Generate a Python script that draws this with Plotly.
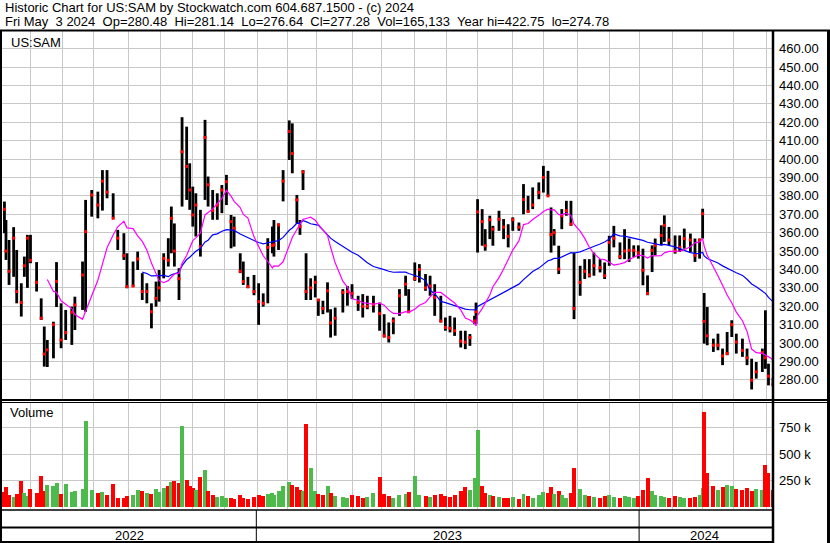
import numpy as np
import pandas as pd
import plotly.graph_objects as go

# ---------------- data ----------------
# trading-session number of each sampled bar (session 0 = 2022-05-05)
session = [1, 2, 4, 7, 9, 12, 14, 16, 18, 22,
           25, 27, 29, 33, 35, 38, 41, 45, 47, 52,
           54, 58, 62, 65, 68, 72, 75, 79, 81, 85,
           88, 91, 94, 97, 100, 102, 105, 108, 110, 112,
           115, 117, 120, 122, 124, 126, 129, 132, 134, 137,
           140, 143, 146, 149, 151, 155, 157, 160, 164, 167,
           170, 173, 176, 177, 180, 183, 187, 189, 192, 194,
           196, 198, 201, 204, 206, 209, 212, 214, 217, 222,
           225, 228, 232, 235, 238, 242, 246, 249, 252, 255,
           259, 263, 265, 269, 272, 276, 279, 282, 286, 289,
           292, 295, 299, 302, 305, 308, 309, 310, 313, 315,
           318, 320, 324, 327, 330, 333, 337, 340, 343, 346,
           350, 353, 356, 358, 360, 363, 365, 368, 371, 373,
           377, 380, 383, 386, 390, 393, 396, 399, 403, 406,
           409, 412, 415, 418, 421, 424, 426, 430, 432, 435,
           439, 442, 445, 449, 452, 455, 457, 458, 460, 464,
           467, 470, 473, 476, 479, 483, 486, 489, 492, 496,
           498, 500, 503]

high = [376.9, 366.9, 356.0, 363.0, 350.6, 332.5, 347.0, 358.8, 358.8, 344.0,
        324.3, 309.0, 301.7, 311.6, 344.0, 321.6, 318.0, 319.8, 325.2, 344.3,
        377.8, 383.2, 382.3, 394.0, 394.0, 381.4, 361.5, 359.7, 348.8, 344.3,
        349.7, 338.0, 332.5, 321.6, 333.4, 339.7, 348.8, 357.0, 374.2, 365.0,
        340.7, 422.75, 417.6, 397.7, 385.0, 381.4, 372.4, 421.3, 390.5, 383.2,
        381.4, 385.9, 391.4, 369.6, 368.7, 348.8, 344.3, 336.0, 337.0, 332.5,
        327.0, 357.0, 363.3, 366.9, 365.0, 394.0, 421.0, 419.4, 380.5, 366.9,
        394.0, 348.8, 335.2, 336.6, 323.9, 323.0, 333.0, 318.4, 319.3, 329.3,
        331.0, 332.0, 325.7, 326.6, 325.7, 325.7, 322.0, 315.7, 311.2, 313.9,
        329.3, 336.6, 329.3, 343.8, 342.9, 337.5, 336.6, 332.0, 325.7, 313.9,
        314.8, 313.9, 306.7, 306.7, 304.9, 314.8, 322.0, 378.2, 372.8, 361.9,
        369.2, 363.7, 371.9, 367.4, 364.6, 368.3, 365.5, 386.4, 380.0, 384.6,
        387.3, 396.3, 393.6, 373.7, 362.0, 352.9, 372.8, 377.3, 377.3, 349.2,
        342.0, 345.6, 345.6, 349.2, 345.6, 343.8, 358.3, 363.7, 354.7, 361.9,
        356.8, 353.1, 353.1, 351.3, 336.8, 353.1, 356.8, 364.0, 369.4, 363.1,
        358.5, 358.5, 362.2, 359.5, 356.8, 356.8, 373.0, 327.2, 319.6, 302.4,
        305.1, 297.0, 306.0, 312.4, 305.1, 302.4, 297.0, 291.5, 289.7, 297.0,
        317.8, 288.8, 281.14]

low = [359.7, 345.2, 331.6, 336.0, 321.6, 314.4, 336.0, 330.0, 343.4, 328.0,
       312.6, 287.2, 287.0, 291.7, 319.6, 297.2, 301.7, 299.0, 307.1, 318.0,
       317.0, 368.7, 367.8, 372.0, 378.7, 367.8, 350.6, 345.2, 329.8, 330.7,
       339.7, 323.4, 321.6, 308.0, 319.8, 322.5, 335.2, 341.6, 348.8, 341.6,
       323.4, 374.2, 377.8, 372.4, 363.3, 357.9, 347.0, 377.8, 374.2, 367.0,
       367.0, 370.6, 375.0, 351.5, 352.4, 338.0, 331.6, 329.8, 326.0, 309.9,
       319.8, 321.6, 348.8, 347.0, 350.6, 377.0, 399.5, 392.3, 365.0, 358.8,
       383.2, 323.4, 323.4, 324.8, 314.8, 315.7, 316.6, 303.0, 304.0, 316.6,
       320.3, 323.9, 317.5, 313.9, 318.4, 316.6, 306.7, 303.0, 300.3, 304.8,
       314.8, 325.7, 316.6, 333.8, 332.9, 328.4, 325.7, 314.8, 311.2, 306.7,
       305.8, 303.9, 297.6, 296.7, 298.5, 310.3, 310.3, 349.2, 352.9, 350.2,
       356.5, 352.9, 361.0, 356.5, 352.0, 361.0, 361.0, 370.0, 371.0, 372.8,
       378.2, 381.8, 380.0, 349.2, 353.0, 337.5, 361.9, 369.2, 363.7, 313.0,
       325.7, 334.8, 335.7, 336.6, 338.4, 334.8, 342.0, 352.0, 345.6, 345.6,
       344.1, 346.8, 345.9, 331.4, 326.0, 338.6, 347.7, 353.1, 355.0, 353.1,
       348.6, 349.5, 351.3, 349.5, 344.1, 345.9, 356.8, 299.7, 298.8, 295.2,
       296.1, 288.0, 293.4, 303.3, 294.3, 292.5, 288.0, 274.78, 280.7, 284.3,
       286.0, 277.0, 276.64]

close = [372.7, 350.0, 339.0, 357.0, 328.0, 322.0, 342.0, 357.0, 345.0, 333.0,
         313.5, 294.0, 296.3, 310.0, 333.5, 301.7, 305.7, 316.7, 320.7, 337.0,
         360.6, 380.5, 375.0, 388.0, 382.0, 367.8, 357.0, 347.5, 330.7, 331.0,
         345.7, 328.0, 328.0, 317.0, 324.3, 330.0, 346.0, 345.0, 367.8, 350.0,
         335.0, 404.0, 396.0, 383.2, 369.6, 375.0, 352.4, 411.7, 386.0, 372.0,
         375.0, 383.2, 387.7, 366.0, 362.4, 339.0, 333.4, 330.7, 328.0, 322.5,
         321.6, 352.0, 353.0, 353.4, 364.2, 388.0, 415.0, 403.0, 377.8, 363.3,
         393.0, 328.0, 330.0, 333.0, 323.4, 318.8, 328.4, 311.0, 313.5, 327.5,
         328.0, 327.0, 322.0, 320.0, 320.0, 321.0, 316.0, 304.0, 303.0, 312.0,
         325.7, 332.0, 317.0, 335.0, 340.0, 330.0, 331.0, 324.8, 312.0, 308.5,
         308.0, 306.7, 301.0, 300.5, 303.0, 312.0, 317.0, 371.3, 366.0, 352.9,
         367.0, 361.9, 367.3, 363.0, 358.0, 367.0, 363.0, 378.0, 371.5, 375.0,
         381.8, 390.0, 380.0, 359.0, 360.0, 340.2, 369.2, 372.0, 364.6, 318.8,
         333.0, 339.0, 337.0, 342.0, 341.0, 336.6, 354.7, 357.0, 347.0, 350.0,
         350.4, 350.4, 349.0, 339.6, 327.0, 350.4, 353.1, 358.5, 364.0, 356.0,
         350.0, 352.0, 356.8, 356.0, 347.7, 355.9, 370.3, 311.8, 304.0, 298.8,
         298.8, 293.0, 294.3, 310.0, 300.6, 296.0, 292.0, 279.8, 284.4, 294.8,
         292.0, 282.0, 277.28]

volume_k = [145, 190, 110, 95, 120, 250, 130, 100, 175, 130,
            290, 150, 210, 200, 225, 120, 218, 140, 150, 170,
            820, 160, 130, 140, 110, 215, 90, 85, 100, 110,
            160, 150, 130, 120, 170, 140, 180, 200, 240, 247,
            225, 772, 260, 200, 180, 160, 288, 350, 150, 110,
            95, 100, 90, 85, 80, 110, 90, 80, 95, 110,
            100, 120, 130, 110, 150, 200, 234, 208, 190, 160,
            150, 788, 368, 150, 120, 110, 202, 130, 100, 95,
            90, 110, 100, 90, 95, 130, 288, 120, 100, 90,
            110, 120, 140, 298, 110, 100, 95, 110, 120, 100,
            95, 110, 150, 190, 160, 279, 250, 734, 200, 130,
            110, 100, 95, 90, 85, 95, 80, 120, 100, 90,
            110, 140, 130, 190, 120, 150, 110, 90, 130, 374,
            170, 110, 100, 95, 90, 100, 110, 95, 90, 100,
            95, 90, 100, 160, 279, 150, 110, 100, 95, 90,
            100, 95, 90, 85, 95, 110, 180, 900, 326, 200,
            160, 190, 210, 200, 170, 160, 180, 150, 170, 160,
            400, 326, 165.133]

fast_window = 30   # sessions (magenta average)
slow_window = 90   # sessions (blue average)

title_line1 = "Historic Chart for US:SAM by Stockwatch.com 604.687.1500 - (c) 2024"
title_line2 = ("Fri May  3 2024  Op=280.48  Hi=281.14  Lo=276.64  Cl=277.28  "
               "Vol=165,133  Year hi=422.75  lo=274.78")
symbol_label = "US:SAM"
price_ticks = list(range(280, 461, 10))
vol_ticks = [250000, 500000, 750000]
vol_tick_text = ["250 k", "500 k", "750 k"]
year_labels = ["2022", "2023", "2024"]

holidays = ["2022-05-30", "2022-06-20", "2022-07-04", "2022-09-05", "2022-11-24",
            "2022-12-26", "2023-01-02", "2023-01-16", "2023-02-20", "2023-04-07",
            "2023-05-29", "2023-06-19", "2023-07-04", "2023-09-04", "2023-11-23",
            "2023-12-25", "2024-01-01", "2024-01-15", "2024-02-19", "2024-03-29"]

# ---------------- derived ----------------
days = pd.bdate_range("2022-05-05", "2024-05-03")
days = days[~days.isin(pd.to_datetime(holidays))]
N = len(days)
month_idx = [i for i in range(1, N) if days[i].month != days[i - 1].month]
year_idx = [i for i in range(1, N) if days[i].year != days[i - 1].year]
year_bounds = [0] + year_idx + [N]

sess = np.array(session, dtype=float)
cl = np.array(close, dtype=float)


def sma(win):
    out = []
    for s in sess:
        if s < win - 1:
            out.append(None)
        else:
            m = (sess > s - win) & (sess <= s)
            out.append(float(cl[m].mean()))
    return out


ma_fast = sma(fast_window)
ma_slow = sma(slow_window)

bx, by = [], []
for s, h, l in zip(session, high, low):
    bx += [s, s, None]
    by += [l, h, None]

vol = [v * 1000 for v in volume_k]
vcol = ["#ff0000"] + ["#4cbb4c" if close[i] >= close[i - 1] else "#ff0000"
                      for i in range(1, len(close))]

# ---------------- figure ----------------
W, H = 830, 543
FONT = "Liberation Sans, Arial, sans-serif"


def px(x):
    return x / W


def py(y):
    return 1 - y / H


fig = go.Figure()
fig.add_trace(go.Scatter(x=bx, y=by, mode="lines", line=dict(color="black", width=2.8),
                         hoverinfo="skip", xaxis="x", yaxis="y"))
fig.add_trace(go.Scatter(x=session, y=close, mode="markers",
                         marker=dict(symbol="square", size=3, color="#ff0000", line=dict(width=0)),
                         hoverinfo="skip", xaxis="x", yaxis="y"))
fig.add_trace(go.Scatter(x=session, y=ma_slow, mode="lines", line=dict(color="#0000ff", width=1.2),
                         hoverinfo="skip", xaxis="x", yaxis="y"))
fig.add_trace(go.Scatter(x=session, y=ma_fast, mode="lines", line=dict(color="#ff00ff", width=1.2),
                         hoverinfo="skip", xaxis="x", yaxis="y"))
fig.add_trace(go.Bar(x=session, y=vol, marker=dict(color=vcol, line=dict(width=0)), width=2.6,
                     hoverinfo="skip", xaxis="x2", yaxis="y2"))

xr = [-0.6, N + 0.3]
grid = "#c8c8c8"
common_x = dict(range=xr, domain=[px(2), px(772)], tickvals=month_idx, showticklabels=False,
                ticks="", showgrid=True, gridcolor=grid, gridwidth=1, zeroline=False,
                showline=False, fixedrange=True)

fig.update_layout(
    width=W, height=H, margin=dict(l=0, r=0, t=0, b=0),
    paper_bgcolor="white", plot_bgcolor="white", showlegend=False,
    font=dict(family=FONT, size=13, color="black"),
    bargap=0,
    xaxis=dict(anchor="y", **common_x),
    xaxis2=dict(anchor="y2", matches="x", **common_x),
    yaxis=dict(domain=[py(399), py(31)], range=[269.6, 469.6], side="right", anchor="x",
               tickvals=price_ticks, ticktext=[f"{v:.2f}" for v in price_ticks],
               showgrid=True, gridcolor=grid, gridwidth=1, zeroline=False, ticks="",
               ticklabelstandoff=6, fixedrange=True,
               tickfont=dict(family=FONT, size=13, color="black")),
    yaxis2=dict(domain=[py(509), py(402)], range=[-19000, 996000], side="right", anchor="x2",
                tickvals=vol_ticks, ticktext=vol_tick_text,
                showgrid=True, gridcolor=grid, gridwidth=1, zeroline=False, ticks="",
                ticklabelstandoff=6, fixedrange=True,
                tickfont=dict(family=FONT, size=13, color="black")),
)

ann = [
    dict(text=title_line1.replace("  ", "\u00a0\u00a0"), x=px(3), y=py(8)),
    dict(text=title_line2.replace("  ", "\u00a0\u00a0"), x=px(3), y=py(21)),
    dict(text=symbol_label, x=px(9), y=py(42)),
    dict(text="Volume", x=px(8), y=py(413)),
]
annotations = []
for a in ann:
    annotations.append(dict(text=a["text"], x=a["x"], y=a["y"], xref="paper", yref="paper",
                            xanchor="left", yanchor="middle", showarrow=False,
                            font=dict(family=FONT, size=13, color="black")))
for lab, a, b in zip(year_labels, year_bounds[:-1], year_bounds[1:]):
    annotations.append(dict(text=lab, x=(a + b) / 2 - 0.5, y=py(535), xref="x", yref="paper",
                            xanchor="center", yanchor="middle", showarrow=False,
                            font=dict(family=FONT, size=13, color="black")))
fig.update_layout(annotations=annotations)


def hline(y, x0, x1, w):
    return dict(type="line", xref="paper", yref="paper", x0=px(x0), x1=px(x1), y0=py(y), y1=py(y),
                line=dict(color="black", width=w))


def vline(x, y0, y1, w):
    return dict(type="line", xref="paper", yref="paper", x0=px(x), x1=px(x), y0=py(y0), y1=py(y1),
                line=dict(color="black", width=w))


shapes = [
    hline(30.5, 0, 830, 2),
    vline(1, 30, 543, 2),
    vline(773, 30, 543, 2.5),
    vline(828.5, 30, 543, 3),
    hline(400, 0, 830, 2),
    hline(402.5, 0, 830, 1),
    hline(510, 0, 773, 1.5),
    hline(527.5, 0, 773, 2),
    hline(542, 0, 773, 2),
]
for b in year_idx:
    shapes.append(dict(type="line", xref="x", yref="paper", x0=b - 0.5, x1=b - 0.5,
                       y0=py(510), y1=py(543), line=dict(color="black", width=1)))
fig.update_layout(shapes=shapes)

fig.write_html("out.html", config={"displayModeBar": False, "staticPlot": True},
               post_script="document.body.style.margin='0px';document.body.style.overflow='hidden';")
